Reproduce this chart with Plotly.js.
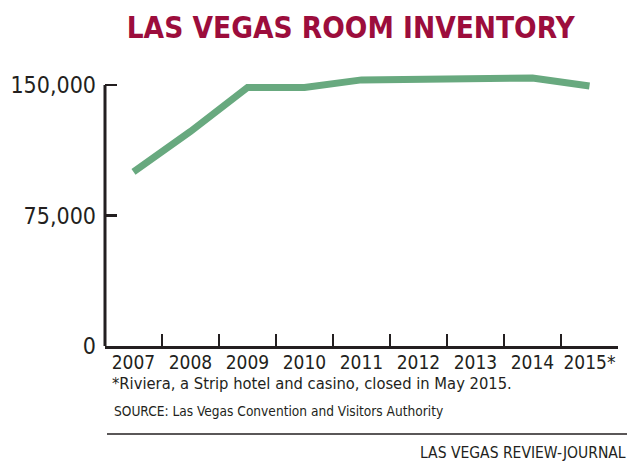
<!DOCTYPE html>
<html>
<head>
<meta charset="utf-8">
<script src="https://cdn.plot.ly/plotly-3.0.1.min.js"></script>
<style>
html,body{margin:0;padding:0;background:#fff;}
#chart{width:640px;height:464px;}
</style>
</head>
<body>
<div id="chart"></div>
<script>
var years = ["2007", "2008", "2009", "2010", "2011", "2012", "2013", "2014", "2015*"];
var rooms = [100000, 123300, 148500, 148500, 152900, 153400, 153700, 154000, 149400];
var yTickVals = [0, 75000, 150000];
var yTickText = ["0", "75,000", "150,000"];
var titleText = "LAS VEGAS ROOM INVENTORY";
var footnote = "*Riviera, a Strip hotel and casino, closed in May 2015.";
var sourceText = "SOURCE: Las Vegas Convention and Visitors Authority";
var creditText = "LAS VEGAS REVIEW-JOURNAL";

var W = 640, H = 464;
var M = {l: 105, r: 22, t: 71, b: 118};
var plotW = W - M.l - M.r, plotH = H - M.t - M.b;
function px(x) { return (x - M.l) / plotW; }
function py(y) { return (H - M.b - y) / plotH; }

var FONT = "Liberation Sans Narrow, DejaVu Sans Condensed, Arial Narrow, sans-serif";
var INK = "#231f20";

var trace = {
  x: years,
  y: rooms,
  type: "scatter",
  mode: "lines",
  line: {color: "#68a97f", width: 7},
  hoverinfo: "skip"
};

var layout = {
  width: W, height: H,
  margin: M,
  paper_bgcolor: "#ffffff",
  plot_bgcolor: "#ffffff",
  showlegend: false,
  title: {
    text: "<b>" + titleText + "</b>",
    font: {family: FONT, size: 29.5, color: "#9c0d3c"},
    x: 0.548, xanchor: "center",
    y: 1 - 28 / H, yanchor: "middle",
    xref: "container", yref: "container"
  },
  xaxis: {
    type: "category",
    range: [-0.5, 8.5],
    showgrid: false,
    zeroline: false,
    showline: true,
    linecolor: INK,
    linewidth: 3,
    ticks: "inside",
    tickson: "boundaries",
    ticklen: 12,
    tickwidth: 2.5,
    tickcolor: INK,
    tickangle: 0,
    tickfont: {family: FONT, size: 19, color: INK},
    ticklabelstandoff: -3,
    fixedrange: true
  },
  yaxis: {
    range: [0, 158000],
    showgrid: false,
    zeroline: false,
    showline: false,
    tickmode: "array",
    tickvals: yTickVals,
    ticktext: yTickText,
    ticks: "inside",
    ticklen: 12,
    tickwidth: 2.5,
    tickcolor: INK,
    tickfont: {family: FONT, size: 23, color: INK},
    ticklabelstandoff: 8,
    fixedrange: true
  },
  shapes: [
    {type: "line", xref: "paper", yref: "y", x0: 0, x1: 0, y0: 0, y1: 150000,
     line: {color: INK, width: 3}},
    {type: "line", xref: "paper", yref: "paper", x0: px(107), x1: px(627), y0: py(434), y1: py(434),
     line: {color: INK, width: 1.5}}
  ],
  annotations: [
    {text: footnote, xref: "paper", yref: "paper", x: px(110), y: py(383),
     xanchor: "left", yanchor: "middle", showarrow: false,
     font: {family: FONT, size: 16.4, color: INK}},
    {text: sourceText, xref: "paper", yref: "paper", x: px(112), y: py(411),
     xanchor: "left", yanchor: "middle", showarrow: false,
     font: {family: FONT, size: 13.6, color: INK}},
    {text: creditText, xref: "paper", yref: "paper", x: px(628), y: py(453),
     xanchor: "right", yanchor: "middle", showarrow: false,
     font: {family: FONT, size: 15.5, color: INK}}
  ]
};

Plotly.newPlot("chart", [trace], layout, {displayModeBar: false, staticPlot: true});
</script>
</body>
</html>
